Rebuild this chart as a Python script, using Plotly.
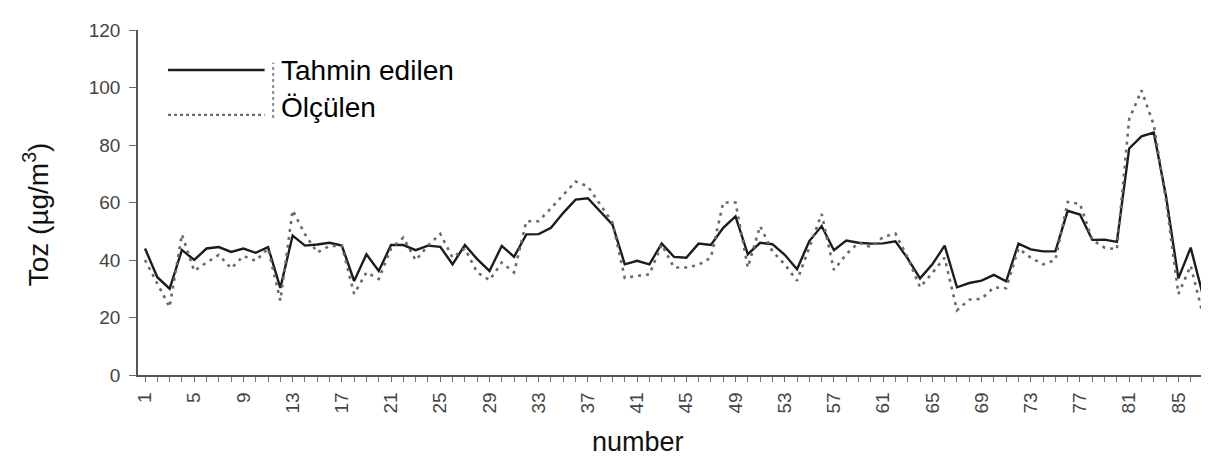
import plotly.graph_objects as go

# ---- data -------------------------------------------------------------
numbers = list(range(1, 88))

tahmin_edilen = [
    44, 34, 30, 43.5, 40, 44, 44.5, 42.8, 44, 42.5,
    44.5, 30.3, 48.5, 45, 45.4, 46, 45, 32.7, 42, 36.2,
    45.2, 45.2, 43.4, 45, 44.6, 38.5, 45.2, 40.3, 36.2, 44.9,
    41.1, 48.9, 49, 51.2, 56.4, 61, 61.5, 57, 52.3, 38.5,
    39.7, 38.5, 45.7, 41.1, 40.8, 45.7, 45.2, 51.2, 55.2, 42,
    46, 45.5, 41.8, 36.8, 46.6, 51.8, 43.4, 46.8, 46, 45.7,
    45.8, 46.5, 40.5, 33.6, 38.5, 45, 30.5, 32, 32.8, 34.8,
    32.6, 45.7, 43.7, 43, 43, 57.1, 55.8, 47, 47.1, 46.3,
    78.8, 83, 84.3, 62, 33.6, 44.3, 27.6,
]

olculen = [
    40, 31.6, 23.6, 48.9, 36.2, 39.1, 41.8, 37.1, 41.4, 39.7,
    44, 25.9, 57.3, 49, 42.6, 44.9, 44.9, 28.2, 35.7, 33.4,
    44, 47.8, 39.9, 45, 49.1, 40.8, 44, 35.7, 33, 39.1,
    35.7, 53.5, 53.5, 58, 62.5, 67.3, 65.6, 59.2, 53, 33.7,
    34.5, 35, 45.4, 37.4, 37.4, 38.3, 40.8, 60, 60, 37.4,
    51.8, 43, 38.5, 32.8, 44.3, 56, 36.5, 42, 46, 44.5,
    48, 49.2, 40.8, 30.5, 35.5, 40.8, 22.5, 26.2, 26.5, 30.5,
    30.2, 44, 40.8, 38.5, 40, 60.2, 59.5, 47, 44.3, 43.7,
    89, 99, 87, 60.5, 28.2, 38, 20.8,
]

x_label_values = list(range(1, 88, 4))
y_tick_values = [0, 20, 40, 60, 80, 100, 120]

series_names = ["Tahmin edilen", "Ölçülen"]
x_title = "number"
y_title = "Toz (µg/m<sup>3</sup>)"

# ---- styles -----------------------------------------------------------
FONT = "Liberation Sans, Arial, sans-serif"
SOLID_COLOR = "#1c1c1c"
DOT_COLOR = "#6a6a6a"
DOT_DASH = "3px,5px"

fig = go.Figure()
fig.add_trace(go.Scatter(
    x=numbers, y=tahmin_edilen, name=series_names[0], mode="lines",
    line=dict(color=SOLID_COLOR, width=2.4),
))
fig.add_trace(go.Scatter(
    x=numbers, y=olculen, name=series_names[1], mode="lines",
    line=dict(color=DOT_COLOR, width=2.6, dash=DOT_DASH),
))

fig.update_layout(
    width=1209, height=456, autosize=False,
    margin=dict(l=130, r=6, t=22, b=89),
    paper_bgcolor="white", plot_bgcolor="white",
    showlegend=False,
    font=dict(family=FONT, color="#222"),
    xaxis=dict(
        range=[0.43, 87.65], showgrid=False, zeroline=False,
        showline=True, linecolor="#555", linewidth=1.5,
        ticks="outside", ticklen=5, tickwidth=1.2, tickcolor="#666",
        tickvals=x_label_values, tickangle=-90,
        tickfont=dict(family=FONT, size=19, color="#444"),
        ticklabelstandoff=3,
        minor=dict(tickvals=numbers, ticks="outside", ticklen=5,
                   tickwidth=1.2, tickcolor="#777", showgrid=False),
    ),
    yaxis=dict(
        range=[0, 120], showgrid=False, zeroline=False,
        showline=True, linecolor="#555", linewidth=1.5,
        ticks="outside", ticklen=7, tickwidth=1.2, tickcolor="#666",
        tickvals=y_tick_values,
        tickfont=dict(family=FONT, size=19, color="#444"),
        ticklabelstandoff=5,
    ),
)

# axis titles
fig.add_annotation(
    text=x_title, xref="paper", yref="paper", x=0.466, y=-0.193,
    xanchor="center", yanchor="middle", showarrow=False,
    font=dict(family=FONT, size=27, color="#111"),
)
fig.add_annotation(
    text=y_title, xref="paper", yref="paper", x=-0.095, y=0.466,
    xanchor="center", yanchor="middle", showarrow=False, textangle=-90,
    font=dict(family=FONT, size=28, color="#111"),
)

# legend (drawn manually to match long sample lines)
legend_rows = [
    dict(y=0.884, color=SOLID_COLOR, dash="solid", width=2.4),
    dict(y=0.754, color=DOT_COLOR, dash="dot", width=2.4),
]
for name, row in zip(series_names, legend_rows):
    fig.add_shape(
        type="line", xref="paper", yref="paper",
        x0=0.028, x1=0.118, y0=row["y"], y1=row["y"],
        line=dict(color=row["color"], width=row["width"], dash=row["dash"]),
    )
fig.add_shape(
    type="line", xref="paper", yref="paper",
    x0=0.126, x1=0.126, y0=0.745, y1=0.905,
    line=dict(color="#888", width=2, dash="dot"),
)
fig.add_annotation(
    text=series_names[0], xref="paper", yref="paper", x=0.131, y=0.884,
    xanchor="left", yanchor="middle", showarrow=False,
    font=dict(family=FONT, size=28, color="#000"),
)
fig.add_annotation(
    text=series_names[1], xref="paper", yref="paper", x=0.131, y=0.775,
    xanchor="left", yanchor="middle", showarrow=False,
    font=dict(family=FONT, size=28, color="#000"),
)

fig.write_html("out.html")
